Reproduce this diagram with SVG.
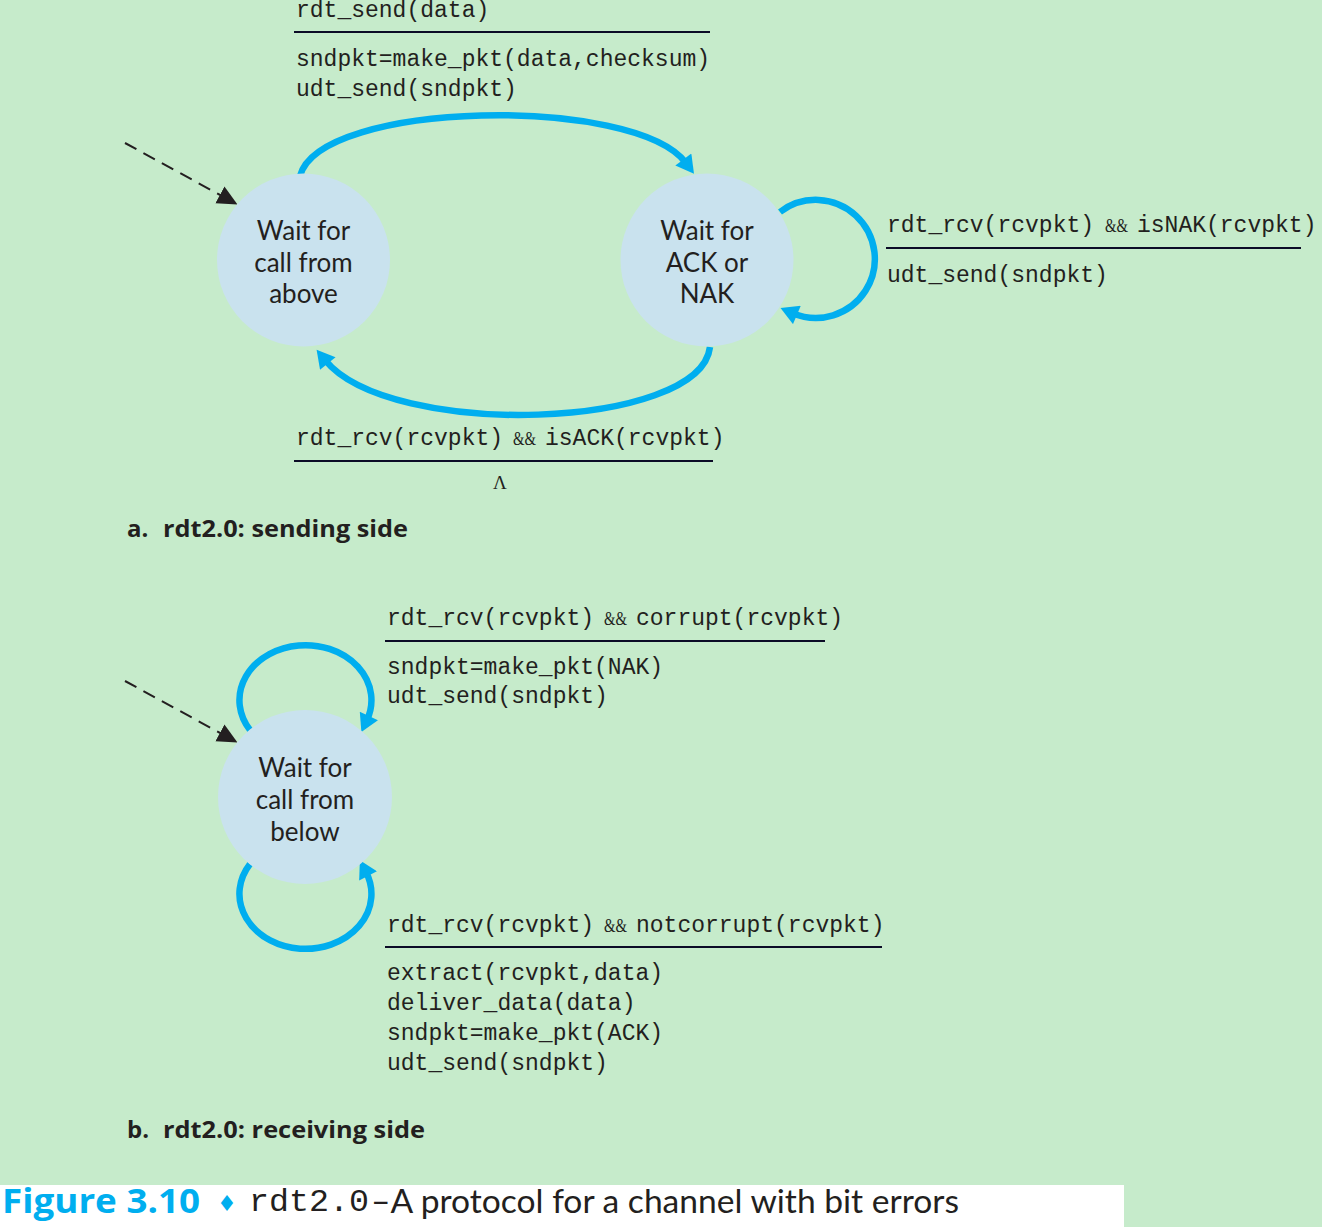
<svg xmlns="http://www.w3.org/2000/svg" width="1322" height="1227" viewBox="0 0 1322 1227">
<defs>
<style>
.bg{fill:#c6ebcb}
.node{fill:#c9e2ee}
.nt{font-family:Lato,"Open Sans","Liberation Sans",sans-serif;font-size:26px;fill:#231f20;text-anchor:middle}
.mono{font-family:"Liberation Mono","DejaVu Sans Mono",monospace;font-size:23px;fill:#231f20}
.amp{font-family:"Liberation Serif",serif;font-size:19px;fill:#231f20}
.rule{stroke:#0b0b26;stroke-width:2}
.arc{fill:none;stroke:#00aeef;stroke-width:6.5}
.dash{fill:none;stroke:#231f20;stroke-width:2;stroke-dasharray:13 8}
.cap{font-family:"Open Sans","Noto Sans","Liberation Sans",sans-serif;font-weight:bold;font-size:24px;fill:#231f20}
</style>
<marker id="ab" markerUnits="userSpaceOnUse" markerWidth="20" markerHeight="20" refX="4" refY="9" orient="auto" viewBox="0 0 16 18">
<path d="M0,0 L16,9 L0,18 z" fill="#00aeef"/>
</marker>
<marker id="ak" markerUnits="userSpaceOnUse" markerWidth="20" markerHeight="20" refX="2" refY="8" orient="auto" viewBox="0 0 17 16">
<path d="M0,0 L17,8 L0,16 z" fill="#231f20"/>
</marker>
</defs>
<rect class="bg" x="0" y="0" width="1322" height="1227"/>

<g id="connectors">
<path class="dash" d="M125 143 L222 196" marker-end="url(#ak)"/>
<path class="arc" d="M300 176 C320 100 635 95 686 163" marker-end="url(#ab)"/>
<path class="arc" d="M710 347 C700 430 390 440 325 360" marker-end="url(#ab)"/>
<path class="arc" d="M780 212 A59 59 0 1 1 792.8 313.2" marker-end="url(#ab)"/>
<path class="dash" d="M125 681 L222 734" marker-end="url(#ak)"/>
<path class="arc" d="M250 730 A66 55 0 1 1 367 720" marker-end="url(#ab)"/>
<path class="arc" d="M250 864 A66 55 0 1 0 366 872" marker-end="url(#ab)"/>
</g>

<g id="node-wait-above">
<circle class="node" cx="303.5" cy="260" r="86.5"/>
<text class="nt" x="303.5" y="240">Wait for</text>
<text class="nt" x="303.5" y="272">call from</text>
<text class="nt" x="303.5" y="303">above</text>
</g>

<g id="node-wait-ack">
<circle class="node" cx="707" cy="260" r="86.5"/>
<text class="nt" x="707" y="240">Wait for</text>
<text class="nt" x="707" y="272">ACK or</text>
<text class="nt" x="707" y="303">NAK</text>
</g>

<g id="node-wait-below">
<circle class="node" cx="305" cy="797" r="87"/>
<text class="nt" x="305" y="777">Wait for</text>
<text class="nt" x="305" y="809">call from</text>
<text class="nt" x="305" y="841">below</text>
</g>

<g id="label-send">
<text class="mono" x="296" y="17">rdt_send(data)</text>
<line class="rule" x1="294" y1="32" x2="710" y2="32"/>
<text class="mono" x="296" y="66">sndpkt=make_pkt(data,checksum)</text>
<text class="mono" x="296" y="96">udt_send(sndpkt)</text>
</g>

<g id="label-nak">
<text class="mono" x="887" y="232">rdt_rcv(rcvpkt)</text>
<text class="amp" x="1105" y="232" textLength="23" lengthAdjust="spacingAndGlyphs">&amp;&amp;</text>
<text class="mono" x="1137" y="232">isNAK(rcvpkt)</text>
<line class="rule" x1="886" y1="248" x2="1301" y2="248"/>
<text class="mono" x="887" y="282">udt_send(sndpkt)</text>
</g>

<g id="label-ack">
<text class="mono" x="296" y="445">rdt_rcv(rcvpkt)</text>
<text class="amp" x="513" y="445" textLength="23" lengthAdjust="spacingAndGlyphs">&amp;&amp;</text>
<text class="mono" x="545" y="445">isACK(rcvpkt)</text>
<line class="rule" x1="294" y1="461" x2="713" y2="461"/>
<text x="500" y="489" text-anchor="middle" font-family="Liberation Serif,serif" font-size="19" fill="#231f20">Λ</text>
</g>

<g id="title-a">
<text class="cap" x="127" y="537">a.</text>
<text class="cap" x="163" y="537" textLength="245" lengthAdjust="spacingAndGlyphs">rdt2.0: sending side</text>
</g>

<g id="label-corrupt">
<text class="mono" x="387" y="625">rdt_rcv(rcvpkt)</text>
<text class="amp" x="604" y="625" textLength="23" lengthAdjust="spacingAndGlyphs">&amp;&amp;</text>
<text class="mono" x="636" y="625">corrupt(rcvpkt)</text>
<line class="rule" x1="385" y1="641" x2="825" y2="641"/>
<text class="mono" x="387" y="674">sndpkt=make_pkt(NAK)</text>
<text class="mono" x="387" y="703">udt_send(sndpkt)</text>
</g>

<g id="label-notcorrupt">
<text class="mono" x="387" y="932">rdt_rcv(rcvpkt)</text>
<text class="amp" x="604" y="932" textLength="23" lengthAdjust="spacingAndGlyphs">&amp;&amp;</text>
<text class="mono" x="636" y="932">notcorrupt(rcvpkt)</text>
<line class="rule" x1="385" y1="947" x2="882" y2="947"/>
<text class="mono" x="387" y="980">extract(rcvpkt,data)</text>
<text class="mono" x="387" y="1010">deliver_data(data)</text>
<text class="mono" x="387" y="1040">sndpkt=make_pkt(ACK)</text>
<text class="mono" x="387" y="1070">udt_send(sndpkt)</text>
</g>

<g id="title-b">
<text class="cap" x="127" y="1138">b.</text>
<text class="cap" x="163" y="1138" textLength="262" lengthAdjust="spacingAndGlyphs">rdt2.0: receiving side</text>
</g>

<g id="caption">
<rect x="0" y="1185" width="1124" height="42" fill="#ffffff"/>
<text x="2" y="1213" font-family="Open Sans,Noto Sans,Liberation Sans,sans-serif" font-weight="bold" font-size="34" fill="#00aeef" textLength="198" lengthAdjust="spacingAndGlyphs">Figure 3.10</text>
<text x="217" y="1211" font-family="DejaVu Sans,sans-serif" font-size="22" fill="#00aeef">♦</text>
<text x="249" y="1211" font-family="Liberation Mono,monospace" font-size="32" fill="#231f20" textLength="120" lengthAdjust="spacingAndGlyphs">rdt2.0</text>
<text x="371" y="1213" font-family="Lato,Open Sans,Liberation Sans,sans-serif" font-size="32" fill="#231f20" textLength="588" lengthAdjust="spacingAndGlyphs">–A protocol for a channel with bit errors</text>
</g>
</svg>
